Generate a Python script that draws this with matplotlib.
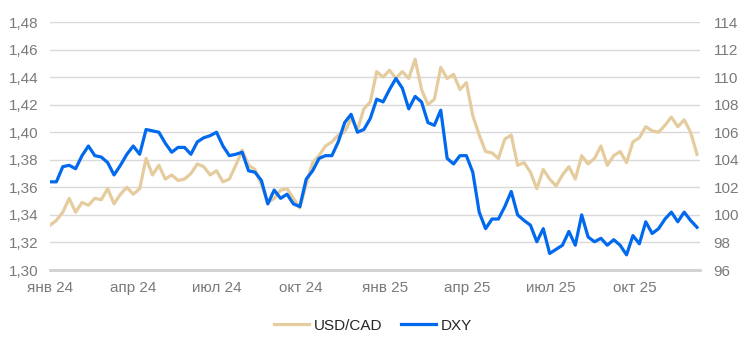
import matplotlib
matplotlib.use("Agg")
import matplotlib.pyplot as plt
from matplotlib.ticker import FuncFormatter, MultipleLocator
import pandas as pd

plt.rcParams['font.family'] = ['Liberation Sans Narrow', 'Liberation Sans', 'DejaVu Sans']

# weekly readings, starting 1 Jan 2024
dates = pd.date_range("2024-01-01", periods=102, freq="7D")

usdcad = [
    1.3325, 1.336, 1.342, 1.352, 1.342, 1.349, 1.347, 1.352, 1.351, 1.359,
    1.348, 1.355, 1.360, 1.355, 1.359, 1.381, 1.369, 1.376, 1.366, 1.369,
    1.365, 1.366, 1.370, 1.377, 1.375, 1.369, 1.372, 1.364, 1.366, 1.376,
    1.387, 1.376, 1.373, 1.362, 1.349, 1.352, 1.358, 1.359, 1.352, 1.345,
    1.362, 1.378, 1.383, 1.390, 1.393, 1.398, 1.400, 1.410, 1.402, 1.417,
    1.422, 1.444, 1.440, 1.445, 1.439, 1.444, 1.439, 1.453, 1.431, 1.420,
    1.424, 1.447, 1.439, 1.442, 1.431, 1.436, 1.412, 1.398, 1.386, 1.385,
    1.381, 1.395, 1.398, 1.376, 1.378, 1.371, 1.359, 1.373, 1.366, 1.361,
    1.369, 1.375, 1.366, 1.383, 1.377, 1.381, 1.390, 1.376, 1.383, 1.386,
    1.378, 1.393, 1.396, 1.404, 1.401, 1.400, 1.405, 1.411, 1.404, 1.409,
    1.400, 1.384,
]

dxy = [
    102.4, 102.4, 103.5, 103.6, 103.35, 104.3, 105.0, 104.3, 104.2, 103.8,
    102.9, 103.6, 104.4, 105.0, 104.4, 106.2, 106.1, 106.0, 105.2, 104.55,
    104.9, 104.9, 104.4, 105.3, 105.6, 105.75, 106.0, 105.0, 104.3, 104.4,
    104.55, 103.2, 103.1, 102.5, 100.8, 101.8, 101.2, 101.5, 100.8, 100.6,
    102.6, 103.2, 104.1, 104.3, 104.3, 105.3, 106.7, 107.3, 106.0, 106.2,
    107.0, 108.4, 108.2, 109.1, 109.9, 109.2, 107.7, 108.6, 108.2, 106.7,
    106.5, 107.6, 104.1, 103.7, 104.3, 104.3, 103.1, 100.2, 99.0, 99.7,
    99.7, 100.6, 101.7, 100.0, 99.6, 99.25, 98.05, 99.0, 97.2, 97.5,
    97.8, 98.8, 97.8, 100.0, 98.4, 98.05, 98.3, 97.8, 98.2, 97.8,
    97.1, 98.5, 97.9, 99.5, 98.65, 99.0, 99.7, 100.2, 99.5, 100.2,
    99.6, 99.1,
]

tick_dates = pd.to_datetime(["2024-01-01", "2024-04-01", "2024-07-01", "2024-10-01",
                             "2025-01-01", "2025-04-01", "2025-07-01", "2025-10-01"])
tick_labels = ["янв 24", "апр 24", "июл 24", "окт 24",
               "янв 25", "апр 25", "июл 25", "окт 25"]

tan = "#E5CC9E"
blue = "#0069EE"
grey_text = "#7A7A7A"

fig = plt.figure(figsize=(7.46, 3.55), dpi=100)
ax = fig.add_axes([0.067, 0.2394, 0.871, 0.6986])
ax2 = ax.twinx()

ax.plot(dates, usdcad, color=tan, lw=2.3, label="USD/CAD", solid_joinstyle="round")
ax2.plot(dates, dxy, color=blue, lw=2.3, label="DXY", solid_joinstyle="round")

ax.set_ylim(1.30, 1.48)
ax2.set_ylim(96, 114)
ax.yaxis.set_major_locator(MultipleLocator(0.02))
ax2.yaxis.set_major_locator(MultipleLocator(2))
ax.yaxis.set_major_formatter(FuncFormatter(lambda v, p: f"{v:.2f}".replace(".", ",")))
ax2.yaxis.set_major_formatter(FuncFormatter(lambda v, p: f"{v:.0f}"))

ax.set_xlim(pd.Timestamp("2024-01-01"), pd.Timestamp("2025-12-11"))
ax.set_xticks(tick_dates)
ax.set_xticklabels(tick_labels)

ax.grid(axis="y", color="#D9D9D9", lw=1)
ax.set_axisbelow(True)
for a in (ax, ax2):
    for s in a.spines.values():
        s.set_visible(False)
    a.tick_params(length=0, labelsize=11, colors=grey_text)
ax.spines["bottom"].set_visible(True)
ax.spines["bottom"].set_color("#D0D0D0")
ax.spines["bottom"].set_linewidth(2)
ax.tick_params(axis="x", pad=8)
ax.tick_params(axis="y", pad=8)
ax2.tick_params(axis="y", pad=10)

h1, l1 = ax.get_legend_handles_labels()
h2, l2 = ax2.get_legend_handles_labels()
leg = fig.legend(h1 + h2, l1 + l2, loc="center", bbox_to_anchor=(0.5, 0.083), ncol=2,
                 frameon=False, fontsize=11, handlelength=2.3, columnspacing=1.2,
                 handletextpad=0.3)
for t in leg.get_texts():
    t.set_color("#262626")

fig.savefig("out.png", dpi=100)
